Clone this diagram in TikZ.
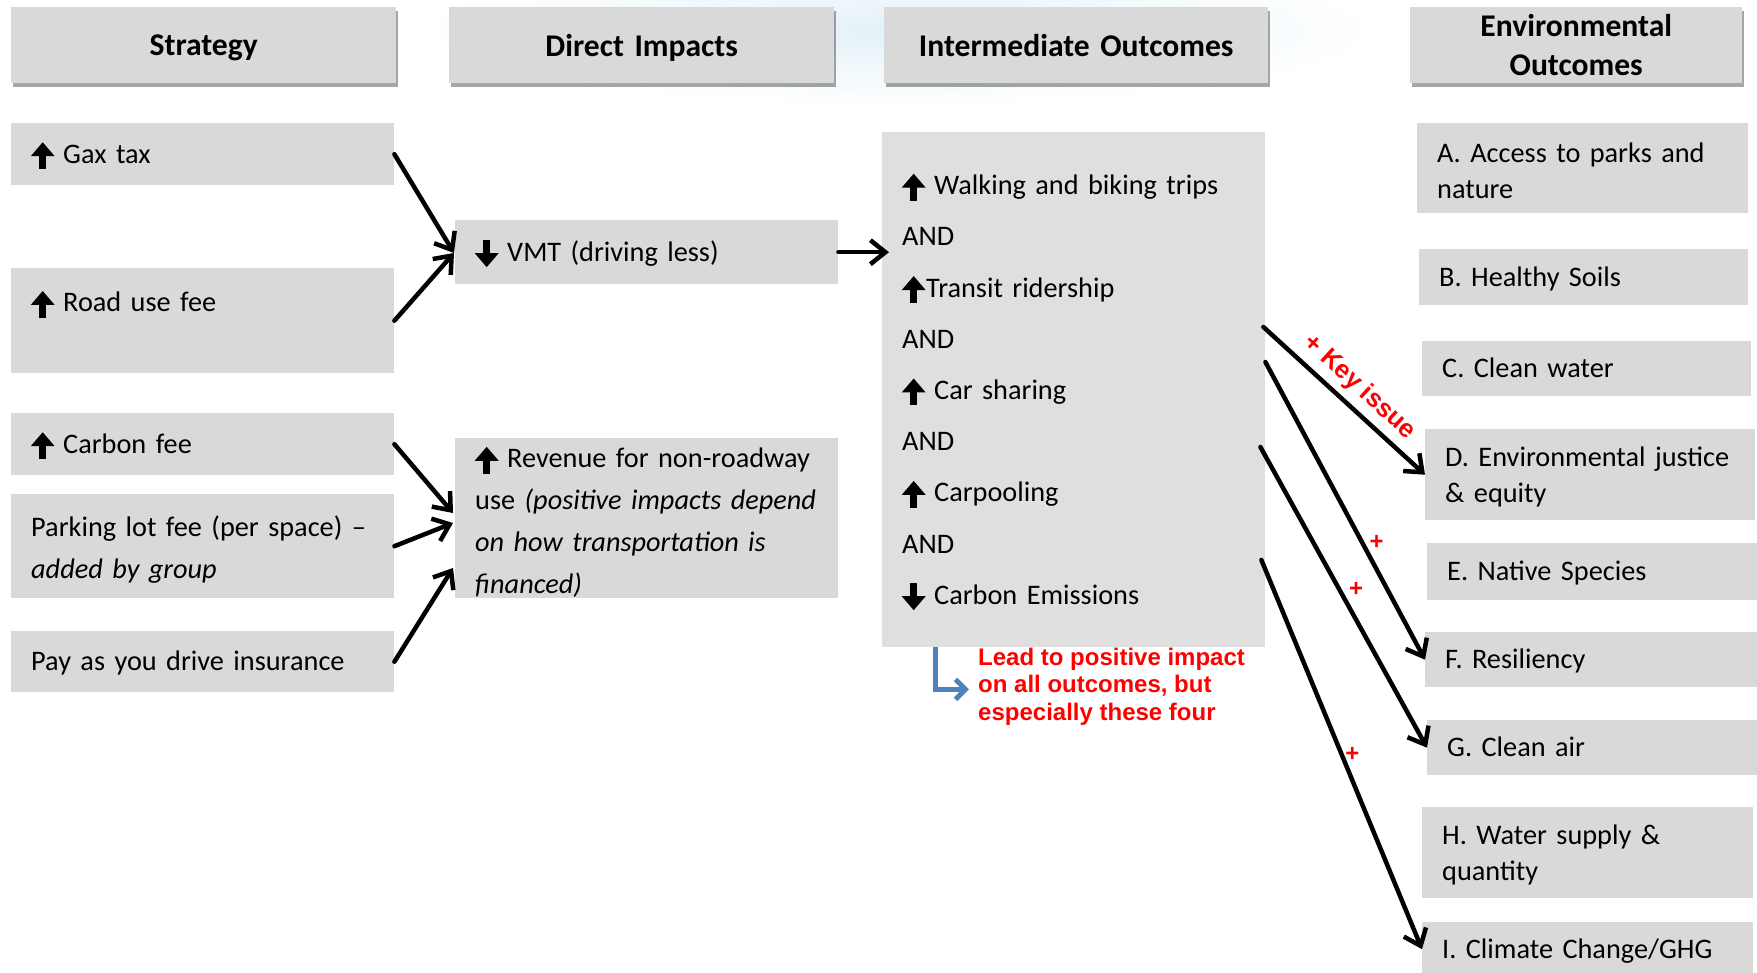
\documentclass[tikz,border=0pt]{standalone}
\usepackage{fontspec}
\setmainfont{Carlito}
\newfontfamily\arialfont{Liberation Sans}
\usetikzlibrary{arrows.meta,shadows,calc}
\definecolor{boxgray}{HTML}{D9D9D9}
\definecolor{intergray}{HTML}{DFDFDF}
\definecolor{keyred}{HTML}{FF0000}
\definecolor{bendblue}{HTML}{4F81BD}
\definecolor{washblue}{HTML}{E2F1F8}
\newcommand\bodyfnt{\fontsize{28.3}{42}\selectfont}
\newcommand\envfnt{\fontsize{28.3}{36}\selectfont}
\newcommand\interfnt{\fontsize{28.3}{51.2}\selectfont}
\newcommand\hdrfnt{\fontsize{31.6}{39}\selectfont\bfseries}
\newcommand\redfnt{\arialfont\bfseries\fontsize{24}{27.5}\selectfont}
\newcommand\keyfnt{\arialfont\bfseries\fontsize{25.5}{28}\selectfont}
\newcommand\tstrut[1]{\rule{0pt}{#1pt}}
\newcommand\uparr{\tikz[baseline=0pt]\draw[line width=7pt,-{Triangle[length=14pt,width=23pt]}] (0pt,-6pt)--(0pt,21pt);}
\newcommand\dnarr{\tikz[baseline=0pt]\draw[line width=7pt,-{Triangle[length=14pt,width=23pt]}] (0pt,21pt)--(0pt,-6pt);}
\tikzset{
  box/.style={fill=boxgray, anchor=north west, inner xsep=20pt, inner ysep=0pt, align=left, font=\bodyfnt},
  one/.style={text height=24pt, text depth=6pt},
  envbox/.style={box, font=\envfnt},
  hdr/.style={fill=boxgray, anchor=north west, inner xsep=10pt, inner ysep=0pt, align=center, font=\hdrfnt,
    drop shadow={shadow xshift=2pt, shadow yshift=-4pt, fill=black, opacity=0.35}},
  conn/.style={line width=4.5pt, line cap=round, -{Straight Barb[length=15pt,width=24pt]}},
  plus/.style={text=keyred, font=\redfnt, inner sep=0pt},
}
\begin{document}
\begin{tikzpicture}[x=1pt,y=-1pt]
\useasboundingbox (0,0) rectangle (1757,973);
\shade[inner color=washblue, outer color=white] (900,30) ellipse (480 and 75);
% headers
\node[hdr, text width=365pt, minimum height=76pt, text depth=0pt] (hs) at (11,7) {Strategy};
\node[hdr, text width=365pt, minimum height=76pt, text depth=0pt] (hd) at (449,7) {Direct Impacts};
\node[hdr, text width=364pt, minimum height=76pt, text depth=0pt] (hi) at (884,7) {Intermediate Outcomes};
\node[hdr, text width=312pt, minimum height=76pt] (he) at (1410,7) {Environmental\\Outcomes};
% strategy
\node[box, one, text width=343pt, minimum height=62pt] (gax) at (11,123) {\uparr\hspace{9pt}Gax tax};
\node[box, text width=343pt, minimum height=105pt] (road) at (11,268) {\uparr\hspace{9pt}Road use fee\\\mbox{}};
\node[box, one, text width=343pt, minimum height=62pt] (carbon) at (11,413) {\uparr\hspace{9pt}Carbon fee};
\node[box, text width=343pt, minimum height=104pt] (parking) at (11,494) {\tstrut{27}\mbox{Parking lot fee (per space) --}\\\mbox{\textit{added by group}}};
\node[box, one, text width=343pt, minimum height=61pt] (pay) at (11,631) {Pay as you drive insurance};
% direct impacts
\node[box, one, text width=343pt, minimum height=64pt] (vmt) at (455,220) {\dnarr\hspace{9pt}VMT (driving less)};
\node[box, text width=343pt, minimum height=160pt] (rev) at (455,438) {\tstrut{29}\mbox{\uparr\hspace{9pt}Revenue for non-roadway}\\\mbox{use \textit{(positive impacts depend}}\\\mbox{\textit{on how transportation is}}\\\mbox{\textit{financed)}}};
% intermediate
\node[box, fill=intergray, font=\interfnt, text width=343pt, minimum height=515pt] (inter) at (882,132)
 {\tstrut{29}\uparr\hspace{9pt}Walking and biking trips\\AND\\\uparr\hspace{1pt}Transit ridership\\AND\\\uparr\hspace{9pt}Car sharing\\AND\\\uparr\hspace{9pt}Carpooling\\AND\\\dnarr\hspace{9pt}Carbon Emissions};
% environmental
\node[envbox, text width=291pt, minimum height=90pt] (A) at (1417,123) {\tstrut{25}\mbox{A. Access to parks and}\\nature};
\node[envbox, one, text width=289pt, minimum height=56pt] (B) at (1419,249) {B. Healthy Soils};
\node[envbox, one, text width=289pt, minimum height=55pt] (C) at (1422,341) {C. Clean water};
\node[envbox, text width=290pt, minimum height=91pt] (D) at (1425,429) {\tstrut{25}\mbox{D. Environmental justice}\\\mbox{\& equity}};
\node[envbox, one, text width=290pt, minimum height=57pt] (E) at (1427,543) {E. Native Species};
\node[envbox, one, text width=292pt, minimum height=55pt] (F) at (1425,632) {F. Resiliency};
\node[envbox, one, text width=290pt, minimum height=55pt] (G) at (1427,720) {G. Clean air};
\node[envbox, text width=291pt, minimum height=91pt] (H) at (1422,807) {\tstrut{25}\mbox{H. Water supply \&}\\quantity};
\node[envbox, one, text width=291pt, minimum height=54pt] (I) at (1422,922) {\mbox{I. Climate Change/GHG}};
% red note
\node[anchor=west, inner sep=0pt, align=left, text=keyred, font=\redfnt] (lead) at ($(inter.south west)+(96,39)$)
 {Lead to positive impact\\on all outcomes, but\\especially these four};
% connectors
\draw[conn] (gax.east) -- ($(vmt.north west)+(-1,33)$);
\draw[conn] (road.east) -- ($(vmt.north west)+(-1,33)$);
\draw[conn] (vmt.east) -- ($(vmt.east -| inter.west)+(7,0)$);
\draw[conn] (carbon.east) -- ($(rev.north west)+(-2,75)$);
\draw[conn] (parking.east) -- ($(rev.north west)+(-2,85)$);
\draw[conn] (pay.east) -- ($(rev.north west)+(-2,130)$);
\draw[conn] ($(inter.north east)+(-2,195)$) -- (D.west)
  node[pos=0.51, sloped, above, inner sep=6pt, text=keyred, font=\keyfnt] (key) {+ Key issue};
\draw[conn] ($(inter.north east)+(0,230)$) -- (F.west)
  node[plus, pos=0.628, xshift=11pt, yshift=6pt] (pf) {+};
\draw[conn] ($(inter.north east)+(-5,315)$) -- (G.west)
  node[plus, pos=0.497, xshift=13pt, yshift=7pt] (pg) {+};
\draw[conn] ($(inter.north east)+(-4,428)$) -- (I.west)
  node[plus, pos=0.511, xshift=9pt, yshift=4pt] (pi) {+};
\draw[bendblue, line width=5pt, -{Straight Barb[length=10pt,width=20pt]}]
  ($(inter.south west)+(53,0)$) |- ($(lead.west)+(-9,3)$);
\end{tikzpicture}
\end{document}
